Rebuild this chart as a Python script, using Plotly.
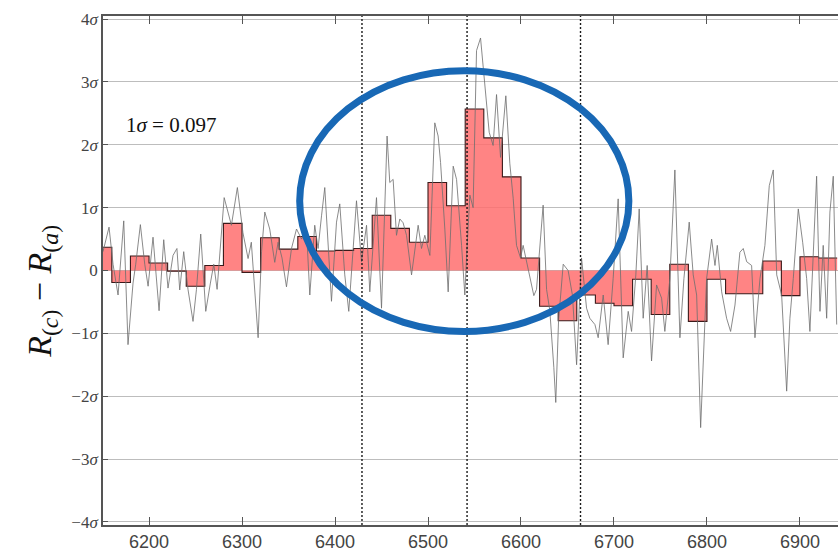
import plotly.graph_objects as go

# Binned residual R(c) - R(a) in units of sigma, 20 A bins (left edges below)
bin_left_edges = list(range(6140, 6921, 20))
bin_values = [0.37, -0.19, 0.23, 0.12, -0.01, -0.25, 0.08, 0.75, -0.03, 0.52,
              0.34, 0.54, 0.31, 0.32, 0.35, 0.88, 0.67, 0.45, 1.40, 1.03,
              2.57, 2.11, 1.49, 0.20, -0.57, -0.80, -0.39, -0.52, -0.56, -0.14,
              -0.70, 0.10, -0.81, -0.14, -0.37, -0.37, 0.15, -0.40, 0.22, 0.20]
bin_width = 20

# Unbinned residual spectrum (wavelength in A, residual in sigma)
wave = [6150.5, 6157.0, 6161.3, 6166.7, 6172.8, 6177.4, 6182.8, 6185.7, 6190.7, 6195.4,
        6199.0, 6204.3, 6210.8, 6215.8, 6220.4, 6225.8, 6230.0, 6233.0, 6237.3, 6241.9,
        6247.3, 6251.0, 6255.6, 6261.0, 6266.0, 6269.6, 6273.2, 6280.8, 6288.6, 6295.0,
        6301.0, 6306.5, 6310.0, 6314.4, 6317.3, 6321.0, 6324.5, 6329.8, 6335.2, 6338.8,
        6343.0, 6347.8, 6353.2, 6358.6, 6364.0, 6369.3, 6372.9, 6378.2, 6381.8, 6385.5,
        6389.0, 6396.2, 6401.6, 6405.1, 6410.5, 6414.8, 6419.4, 6423.1, 6428.5, 6433.9,
        6437.4, 6441.0, 6444.6, 6450.0, 6456.0, 6458.9, 6462.5, 6466.1, 6469.7, 6473.2,
        6476.9, 6482.3, 6489.4, 6493.0, 6496.6, 6502.0, 6507.3, 6510.9, 6513.5, 6518.1,
        6521.7, 6527.1, 6530.7, 6536.1, 6539.6, 6541.4, 6545.0, 6548.5, 6552.2, 6556.5,
        6561.1, 6565.8, 6570.0, 6573.7, 6578.0, 6583.7, 6588.0, 6591.6, 6595.2, 6599.5,
        6602.3, 6606.6, 6609.5, 6613.8, 6616.7, 6623.8, 6627.5, 6631.0, 6635.3, 6637.4,
        6640.4, 6645.4, 6650.7, 6655.4, 6659.8, 6665.1, 6670.5, 6674.0, 6679.5, 6683.0,
        6688.4, 6693.7, 6699.1, 6704.5, 6709.9, 6715.3, 6718.9, 6723.5, 6727.1, 6731.4,
        6735.7, 6740.4, 6745.8, 6751.2, 6754.7, 6760.1, 6765.5, 6770.9, 6775.2, 6780.9,
        6785.2, 6788.9, 6793.2, 6799.6, 6805.0, 6808.6, 6811.1, 6815.8, 6821.1, 6825.4,
        6830.1, 6835.4, 6839.0, 6842.7, 6848.0, 6851.6, 6857.0, 6862.3, 6867.0, 6871.3,
        6875.0, 6880.3, 6885.7, 6889.2, 6892.8, 6898.2, 6902.9, 6907.2, 6910.7, 6914.3,
        6917.9, 6921.5, 6925.0, 6928.7, 6932.2, 6935.8, 6939.5]
resid = [0.30, 0.69, 0.10, -0.39, 0.79, -1.18, -0.20, 0.10, 0.73, 0.10,
         -0.25, 0.53, -0.64, 0.49, -0.28, 0.24, 0.35, -0.31, 0.30, -0.30,
         -0.81, -0.30, 0.58, -0.65, -0.20, 0.10, -0.30, 1.16, 0.72, 1.32,
         0.60, 0.19, 0.45, -0.40, -1.07, 0.30, 0.93, 0.66, 0.13, 0.45,
         0.20, -0.26, 0.35, 0.66, 0.50, 0.66, -0.39, 0.72, 0.35, 0.87,
         1.32, -0.49, 0.77, 1.06, -0.07, -0.65, 0.35, 1.11, 0.14, 0.72,
         -0.34, 0.40, 1.16, -0.60, 2.14, 1.40, 1.45, 0.56, 0.82, 0.76,
         0.56, -0.07, 0.72, 0.35, 0.56, 0.24, 2.35, 2.14, 1.72, 0.66,
         -0.34, 1.66, 1.45, 0.40, -0.39, 0.20, 1.20, 1.00, 3.50, 3.70,
         2.90, 2.20, 1.99, 2.80, 1.80, 2.78, 1.70, 1.15, 0.40, 0.20,
         0.40, 0.10, -0.12, -0.40, -0.30, 1.04, -0.30, -0.64, -1.54, -2.10,
         -0.80, 0.10, 0.00, -0.40, -1.50, 0.20, -0.60, -0.76, -0.86, -1.07,
         -0.39, -1.18, -0.13, 1.14, -1.39, -0.65, -0.97, -0.07, 0.98, -0.76,
         0.08, -1.44, -0.23, -0.44, -0.97, -0.13, 1.60, -1.07, -0.13, 0.77,
         -0.07, -0.39, -2.50, -0.13, 0.50, 0.08, 0.40, -0.34, -0.76, -0.97,
         -0.55, 0.29, 0.35, 0.14, 0.08, -1.07, -0.13, 0.40, 1.35, 1.60,
         -0.07, -0.39, -1.92, -0.76, -0.13, 0.98, 0.45, -0.13, -0.97, 0.40,
         1.50, -0.65, 0.40, -0.76, 0.93, 1.50, -0.86]

# Reference wavelengths marked with dashed lines
line_wavelengths = [6429, 6542, 6664]

sigma_value = 0.097
y_ticks = [-4, -3, -2, -1, 0, 1, 2, 3, 4]
y_ticktext = []
for t in y_ticks:
    if t == 0:
        y_ticktext.append("0")
    elif t < 0:
        y_ticktext.append("\u2212" + f"{abs(t)}<i>\u03c3</i>")
    else:
        y_ticktext.append(f"{t}<i>\u03c3</i>")
x_ticks = [6200, 6300, 6400, 6500, 6600, 6700, 6800, 6900]

x_range = [6150.5, 6940.9]
y_range = [-4.05, 4.05]

fig = go.Figure()

# step-filled histogram of the binned residual
step_x = bin_left_edges + [bin_left_edges[-1] + bin_width]
step_y = bin_values + [bin_values[-1]]
fig.add_trace(go.Scatter(
    x=step_x, y=step_y, mode="lines", line_shape="hv",
    line=dict(color="#3a1a1a", width=1.1),
    fill="tozeroy", fillcolor="rgba(255,110,110,0.85)",
    hoverinfo="skip", showlegend=False))

# unbinned residual spectrum
fig.add_trace(go.Scatter(
    x=wave, y=resid, mode="lines",
    line=dict(color="rgba(110,110,110,0.9)", width=0.9),
    showlegend=False))

# dashed reference lines
for lw in line_wavelengths:
    fig.add_shape(type="line", xref="x", yref="paper", x0=lw, x1=lw, y0=0, y1=1,
                  line=dict(color="#1a1a1a", width=1.4, dash="2px,2px"))

# highlighted region
fig.add_shape(type="circle", xref="x", yref="y",
              x0=6362, x1=6716, y0=-0.97, y1=3.18,
              line=dict(color="#1868b5", width=7))

fig.add_annotation(
    x=6173.5, y=2.32, xref="x", yref="y", xanchor="left", yanchor="middle",
    text=f"1<i>\u03c3</i> = {sigma_value}", showarrow=False,
    font=dict(family="Liberation Serif", size=21, color="#111"))

fig.add_annotation(
    x=-0.083, y=0.46, xref="paper", yref="paper", xanchor="center", yanchor="middle",
    textangle=-90, showarrow=False,
    text="<i>R</i><sub>(<i>c</i>)</sub> \u2212 <i>R</i><sub>(<i>a</i>)</sub>",
    font=dict(family="Liberation Serif", size=34, color="#111"))

fig.update_layout(
    width=838, height=552,
    margin=dict(l=103, r=0, t=16, b=23),
    paper_bgcolor="white", plot_bgcolor="white",
    xaxis=dict(range=x_range, tickvals=x_ticks, ticks="inside", ticklen=8,
               tickcolor="#555", showline=True, linecolor="#555", linewidth=1.5,
               mirror="ticks", showgrid=False, zeroline=False,
               tickfont=dict(family="Liberation Sans", size=18, color="#444")),
    yaxis=dict(range=y_range, tickvals=y_ticks, ticktext=y_ticktext,
               ticks="inside", ticklen=5, tickcolor="#555",
               showline=True, linecolor="#555", linewidth=1.5, mirror=False,
               showgrid=True, gridcolor="#bdbdbd", gridwidth=1, zeroline=False,
               tickfont=dict(family="Liberation Serif", size=17, color="#444")),
)

fig.write_html("out.html")
